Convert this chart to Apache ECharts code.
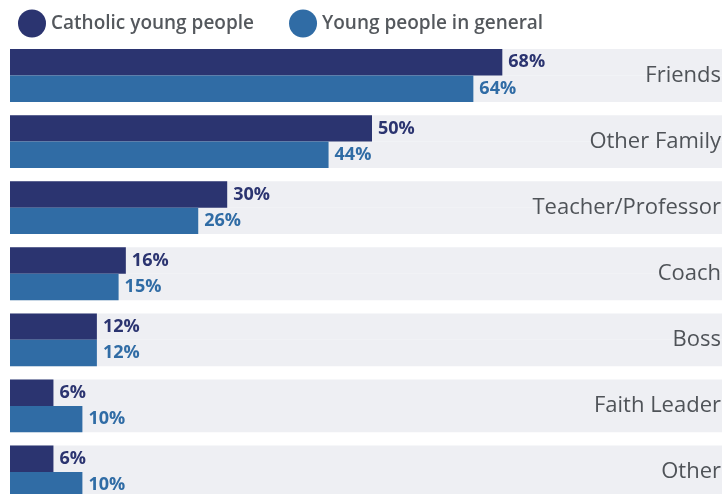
<!DOCTYPE html>
<html>
<head>
<meta charset="utf-8">
<script src="https://cdn.jsdelivr.net/npm/echarts@6/dist/echarts.min.js"></script>
<style>
  html, body { margin: 0; padding: 0; background: #fff; overflow: hidden; }
  /* a little bigger than the window: the last band and the right edge run off the page */
  #chart { width: 734px; height: 505px; }
</style>
</head>
<body>
<div id="chart"></div>
<script>
// categories, top to bottom
const categories = ['Friends', 'Other Family', 'Teacher/Professor', 'Coach', 'Boss', 'Faith Leader', 'Other']
const catholicValues = [68, 50, 30, 16, 12, 6, 6]
const generalValues = [64, 44, 26, 15, 12, 10, 10]
const seriesNames = ['Catholic young people', 'Young people in general']

const darkBlue = '#2b3470'
const midBlue = '#306ca5'
const bandGray = '#eeeff3'

const chart = echarts.init(document.getElementById('chart'))

function barSeries(name, data, color) {
  return {
    name: name,
    type: 'bar',
    data: data,
    barGap: '0%',
    barCategoryGap: '20%',
    itemStyle: { color: color },
    showBackground: true,
    backgroundStyle: { color: bandGray },
    label: {
      show: true,
      position: 'right',
      distance: 6,
      formatter: '{c}%',
      color: color,
      fontFamily: 'Open Sans',
      fontWeight: 'bold',
      fontSize: 18
    }
  }
}

const option = {
  animation: false,
  textStyle: { fontFamily: 'Open Sans' },
  legend: {
    left: 13,
    top: 4.5,
    icon: 'circle',
    itemWidth: 28,
    itemHeight: 28,
    itemGap: 35,
    textStyle: {
      color: '#54585d',
      fontSize: 19,
      fontWeight: 600,
      fontFamily: 'Open Sans'
    },
    data: seriesNames
  },
  grid: {
    left: 10,
    top: 42.5,
    right: 0,
    bottom: 0,
    containLabel: false
  },
  xAxis: {
    type: 'value',
    min: 0,
    max: 100,
    show: false
  },
  yAxis: {
    type: 'category',
    data: categories,
    inverse: true,
    position: 'right',
    axisLine: { show: false },
    axisTick: { show: false },
    axisLabel: {
      inside: true,
      margin: 13,
      color: '#4f5358',
      fontSize: 22,
      fontWeight: 500,
      fontFamily: 'Open Sans'
    },
    z: 10
  },
  series: [
    barSeries(seriesNames[0], catholicValues, darkBlue),
    barSeries(seriesNames[1], generalValues, midBlue)
  ]
}

chart.setOption(option)
</script>
</body>
</html>
